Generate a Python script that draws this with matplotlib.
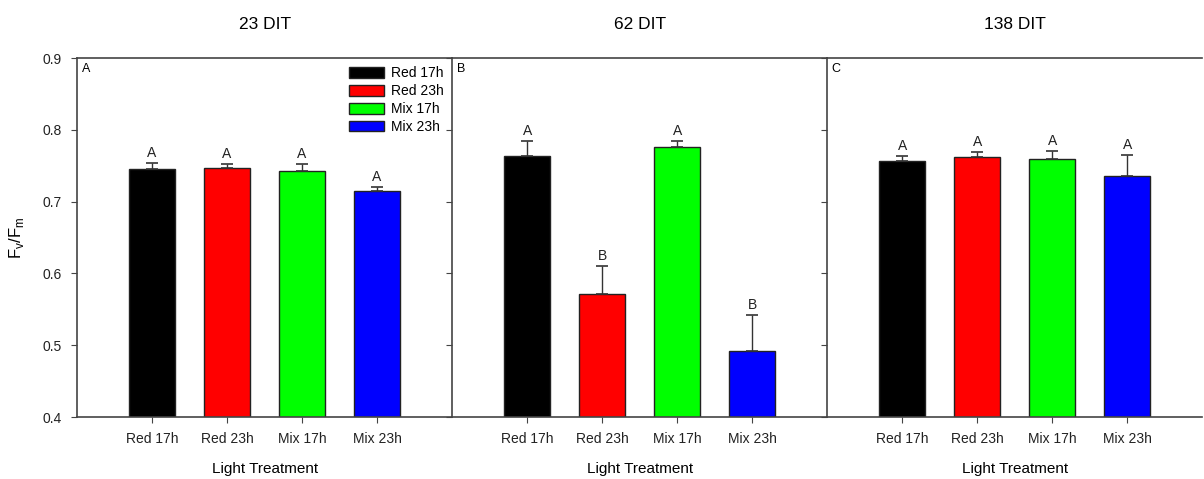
import matplotlib
matplotlib.use('Agg')
import matplotlib.pyplot as plt
from matplotlib.patches import Patch

plt.rcParams['font.family'] = ['Liberation Sans', 'DejaVu Sans']

treatments = ['Red 17h', 'Red 23h', 'Mix 17h', 'Mix 23h']
bar_colors = ['#000000', '#ff0000', '#00ff00', '#0000ff']
panel_titles = ['23 DIT', '62 DIT', '138 DIT']
panel_letters = ['A', 'B', 'C']

# Fv/Fm means and standard errors
means_23 = [0.746, 0.747, 0.742, 0.715]
err_23 = [0.008, 0.005, 0.010, 0.006]
letters_23 = ['A', 'A', 'A', 'A']

means_62 = [0.763, 0.572, 0.776, 0.492]
err_62 = [0.022, 0.038, 0.009, 0.050]
letters_62 = ['A', 'B', 'A', 'B']

means_138 = [0.756, 0.762, 0.759, 0.736]
err_138 = [0.008, 0.007, 0.011, 0.029]
letters_138 = ['A', 'A', 'A', 'A']

all_means = [means_23, means_62, means_138]
all_err = [err_23, err_62, err_138]
all_letters = [letters_23, letters_62, letters_138]


def main():
	fig = plt.figure(figsize=(12.04, 4.79), dpi=100)
	left, bottom, w, h = 0.064, 0.1294, 0.3115, 0.7495
	spine_col = '#444444'
	x = [1, 2, 3, 4]

	for i in range(3):
		ax = fig.add_axes([left + i * w, bottom, w, h])
		ax.bar(x, all_means[i], width=0.61, color=bar_colors, edgecolor='#222222', linewidth=1.0, zorder=2)
		ax.errorbar(x, all_means[i], yerr=[[0] * 4, all_err[i]], fmt='none', ecolor='#333333',
					elinewidth=1.0, capsize=4, capthick=1.2, zorder=3)
		for xi, m, e, lt in zip(x, all_means[i], all_err[i], all_letters[i]):
			ax.text(xi, m + e + 0.004, lt, ha='center', va='bottom', fontsize=10, color='#222222')

		ax.set_xlim(0, 5)
		ax.set_ylim(0.4, 0.9)
		ax.set_xticks(x)
		ax.set_xticklabels(treatments, fontsize=10, color='#222222')
		ax.set_yticks([0.4, 0.5, 0.6, 0.7, 0.8, 0.9])
		if i == 0:
			ax.set_yticklabels(['0.4', '0.5', '0.6', '0.7', '0.8', '0.9'], fontsize=10, color='#222222')
			ax.set_ylabel('F$_\\mathregular{v}$/F$_\\mathregular{m}$', fontsize=12, labelpad=12)
		else:
			ax.set_yticklabels([])
		ax.tick_params(direction='out', length=4, color=spine_col, width=0.8, pad=7)
		ax.spines['right'].set_visible(False)
		for s in ['left', 'top', 'bottom']:
			ax.spines[s].set_color(spine_col)
			ax.spines[s].set_linewidth(1.2)

		ax.set_title(panel_titles[i], fontsize=12.5, pad=21)
		ax.set_xlabel('Light Treatment', fontsize=11, labelpad=11)
		ax.text(0.012, 0.985, panel_letters[i], transform=ax.transAxes, ha='left', va='top', fontsize=9)

		if i == 0:
			handles = [Patch(facecolor=c, edgecolor='#222222', label=t) for c, t in zip(bar_colors, treatments)]
			ax.legend(handles=handles, loc='upper right', frameon=False, fontsize=10,
					  handlelength=2.5, handleheight=0.8, labelspacing=0.28, handletextpad=0.5,
					  borderaxespad=0.2)

	fig.savefig('out.png', dpi=100)


if __name__ == '__main__':
	main()
